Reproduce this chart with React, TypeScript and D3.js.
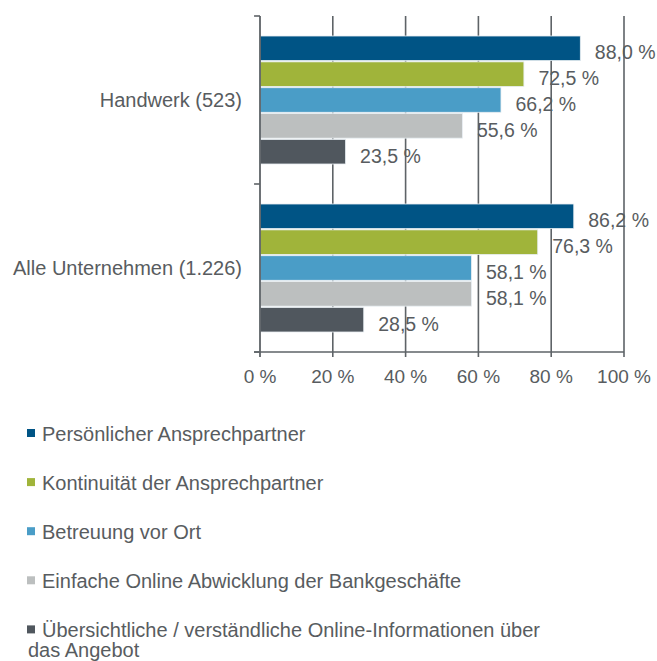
import React from "react";
import * as d3 from "d3";

const categories = ["Handwerk (523)", "Alle Unternehmen (1.226)"];
const series = [
  "Persönlicher Ansprechpartner",
  "Kontinuität der Ansprechpartner",
  "Betreuung vor Ort",
  "Einfache Online Abwicklung der Bankgeschäfte",
  "Übersichtliche / verständliche Online-Informationen über das Angebot",
];
const colors = ["#005485", "#a0b43a", "#4a9dc7", "#bcbfbf", "#50575e"];
const handwerkValues = [88.0, 72.5, 66.2, 55.6, 23.5];
const alleValues = [86.2, 76.3, 58.1, 58.1, 28.5];
const valuesByCategory = [handwerkValues, alleValues];
const xTicks = [0, 20, 40, 60, 80, 100];

const W = 657;
const H = 661;
const FONT = "'Liberation Sans', Arial, sans-serif";
const TEXT = "#585c60";
const AXIS = "#5e6367";

function wrap(text: string, maxW: number, font: string): string[] {
  const canvas = document.createElement("canvas");
  const ctx = canvas.getContext("2d");
  if (!ctx) return [text];
  ctx.font = font;
  const words = text.split(" ");
  const lines: string[] = [];
  let cur = "";
  for (const w of words) {
    const t = cur ? cur + " " + w : w;
    if (ctx.measureText(t).width > maxW && cur) {
      lines.push(cur);
      cur = w;
    } else cur = t;
  }
  if (cur) lines.push(cur);
  return lines;
}

export default function App() {
  const x = d3.scaleLinear().domain([0, 100]).range([260, 624]);
  const y0 = d3.scaleBand<string>().domain(categories).range([16, 352]).padding(0);
  const y1 = d3
    .scaleBand<string>()
    .domain(series)
    .range([20, y0.bandwidth() - 20])
    .paddingInner(0.05);
  const fmt = (v: number) => d3.format(".1f")(v).replace(".", ",") + " %";
  const legendFont = `20px ${FONT}`;

  return (
    <svg
      width={W}
      height={H}
      style={{ position: "absolute", left: 0, top: 0, background: "#fff" }}
      fontFamily={FONT}
    >
      {/* gridlines */}
      {xTicks.slice(1).map((t) => (
        <line key={"g" + t} x1={x(t)} x2={x(t)} y1={16} y2={357} stroke={AXIS} strokeWidth={1.6} />
      ))}
      {/* bars */}
      {categories.map((c, ci) => (
        <g key={c} transform={`translate(0,${y0(c)})`}>
          {series.map((s, si) => (
            <rect
              key={s}
              x={x(0)}
              y={y1(s)}
              width={x(valuesByCategory[ci][si]) - x(0)}
              height={y1.bandwidth()}
              fill={colors[si]}
              stroke="#e8eef2"
              strokeWidth={0.8}
            />
          ))}
        </g>
      ))}
      {/* y axis */}
      <line x1={x(0)} x2={x(0)} y1={16} y2={357} stroke={AXIS} strokeWidth={1.8} />
      {[16, ...categories.map((c) => (y0(c) as number) + y0.bandwidth())].map((yy, i) => (
        <line key={"yt" + i} x1={254} x2={x(0)} y1={yy} y2={yy} stroke={AXIS} strokeWidth={1.6} />
      ))}
      {/* x axis */}
      <line x1={254} x2={x(100)} y1={352} y2={352} stroke={AXIS} strokeWidth={1.6} />
      {xTicks.map((t) => (
        <text key={"xt" + t} x={x(t)} y={383} textAnchor="middle" fontSize={19} fill={TEXT}>
          {t + " %"}
        </text>
      ))}
      {/* category labels */}
      {categories.map((c) => (
        <text
          key={"cl" + c}
          x={242}
          y={(y0(c) as number) + y0.bandwidth() / 2}
          dy="0.35em"
          textAnchor="end"
          fontSize={20}
          fill={TEXT}
        >
          {c}
        </text>
      ))}
      {/* value labels */}
      {categories.map((c, ci) =>
        series.map((s, si) => {
          const v = valuesByCategory[ci][si];
          return (
            <text
              key={"vl" + c + s}
              x={x(v) + 14.5}
              y={(y0(c) as number) + (y1(s) as number) + y1.bandwidth() / 2 + 4}
              dy="0.35em"
              fontSize={19.5}
              fill={TEXT}
            >
              {fmt(v)}
            </text>
          );
        })
      )}
      {/* legend */}
      {series.map((s, i) => {
        const base = 441 + i * 49.1;
        const lines = wrap(s, 520, legendFont);
        return (
          <g key={"lg" + s}>
            <rect x={27} y={base - 12} width={8} height={8} fill={colors[i]} />
            {lines.map((ln, li) => (
              <text
                key={li}
                x={li === 0 ? 42 : 28}
                y={base + li * 19.5}
                fontSize={20}
                fill={TEXT}
              >
                {ln}
              </text>
            ))}
          </g>
        );
      })}
    </svg>
  );
}
